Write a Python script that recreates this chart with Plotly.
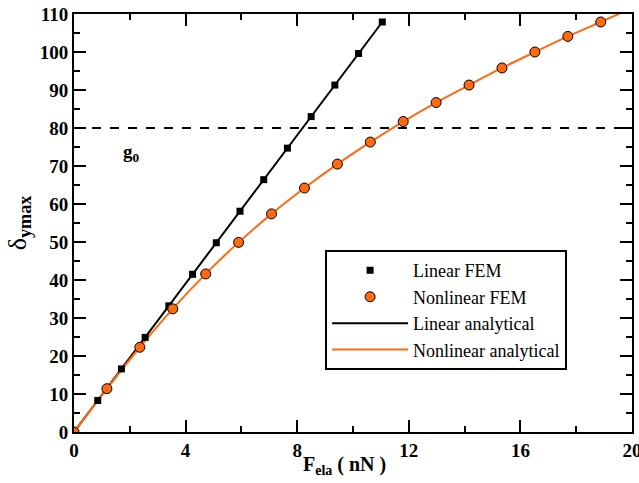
import plotly.graph_objects as go

# Linear FEM
lin_fem_x = [0, 0.85, 1.7, 2.55, 3.4, 4.25, 5.1, 5.95, 6.8, 7.65, 8.5, 9.35, 10.2, 11.05]
lin_fem_y = [0, 8.3, 16.6, 24.9, 33.2, 41.5, 49.8, 58.1, 66.4, 74.7, 83.0, 91.3, 99.6, 107.9]
# Nonlinear FEM
nl_fem_x = [0, 1.18, 2.36, 3.54, 4.72, 5.9, 7.08, 8.26, 9.44, 10.62, 11.8, 12.98, 14.16, 15.34, 16.52, 17.7, 18.88]
nl_fem_y = [0, 11.4, 22.3, 32.4, 41.6, 49.9, 57.4, 64.2, 70.5, 76.3, 81.7, 86.7, 91.3, 95.8, 100.0, 104.1, 107.9]
# Linear analytical
lin_an_x = [0, 11.05]
lin_an_y = [0, 107.9]
# Nonlinear analytical
nl_an_x = [0, 1.18, 2.36, 3.54, 4.72, 5.9, 7.08, 8.26, 9.44, 10.62, 11.8, 12.98, 14.16, 15.34, 16.52, 17.7, 18.88, 19.55]
nl_an_y = [0, 11.4, 22.3, 32.4, 41.6, 49.9, 57.4, 64.2, 70.5, 76.3, 81.7, 86.7, 91.3, 95.8, 100.0, 104.1, 107.9, 110.1]
# g0 gap
g0 = 80

ORANGE = "#FF6A10"
FONT = "Liberation Serif"

fig = go.Figure()
fig.add_trace(go.Scatter(x=[0, 20], y=[g0, g0], mode="lines",
                         line=dict(color="black", width=2, dash="dash"),
                         showlegend=False, hoverinfo="skip"))
fig.add_trace(go.Scatter(x=lin_an_x, y=lin_an_y, mode="lines",
                         line=dict(color="black", width=2), showlegend=False))
fig.add_trace(go.Scatter(x=nl_an_x, y=nl_an_y, mode="lines", line_shape="spline",
                         line=dict(color=ORANGE, width=2), showlegend=False))
fig.add_trace(go.Scatter(x=lin_fem_x, y=lin_fem_y, mode="markers", name="Linear FEM",
                         marker=dict(symbol="square", size=7, color="black")))
fig.add_trace(go.Scatter(x=nl_fem_x, y=nl_fem_y, mode="markers", name="Nonlinear FEM",
                         marker=dict(symbol="circle", size=10, color=ORANGE,
                                     line=dict(color="black", width=1))))
# legend-only entries for the analytical lines
fig.add_trace(go.Scatter(x=[None], y=[None], mode="lines", name="Linear analytical",
                         line=dict(color="black", width=2)))
fig.add_trace(go.Scatter(x=[None], y=[None], mode="lines", name="Nonlinear analytical",
                         line=dict(color=ORANGE, width=2)))

fig.add_annotation(x=2.05, y=73.5, text="<b>g<sub>0</sub></b>", showarrow=False,
                   font=dict(family=FONT, size=19, color="black"))
# x-axis title
fig.add_annotation(x=0.485, y=-0.079, xref="paper", yref="paper",
                   xanchor="center", yanchor="middle", showarrow=False,
                   text="<b>F<sub>ela</sub> ( nN )</b>",
                   font=dict(family=FONT, size=20, color="black"))

axis_common = dict(showline=True, linecolor="black", linewidth=2, mirror="ticks",
                   ticks="inside", tickcolor="black", tickwidth=2, ticklen=12,
                   showgrid=False, zeroline=False, automargin=False,
                   ticklabeloverflow="allow",
                   tickfont=dict(family=FONT, size=19, color="black"))

fig.update_xaxes(range=[0, 20], tickvals=[0, 4, 8, 12, 16, 20],
                 ticktext=["<b>%d</b>" % v for v in [0, 4, 8, 12, 16, 20]],
                 minor=dict(dtick=2, tick0=0, ticks="inside", ticklen=6, tickwidth=2, tickcolor="black"),
                 **axis_common)
fig.update_yaxes(range=[0, 110], tickvals=list(range(0, 111, 10)),
                 ticktext=["<b>%d</b>" % v for v in range(0, 111, 10)],
                 minor=dict(dtick=5, tick0=0, ticks="inside", ticklen=6, tickwidth=2, tickcolor="black"),
                 title=dict(text="δ<b><sub>ymax</sub></b>", standoff=6,
                            font=dict(family=FONT, size=26, color="black")),
                 **axis_common)

fig.update_layout(
    width=639, height=483,
    margin=dict(l=74, r=7, t=14, b=51),
    paper_bgcolor="white", plot_bgcolor="white",
    legend=dict(x=0.45, y=0.435, xanchor="left", yanchor="top",
                bordercolor="black", borderwidth=2, bgcolor="white",
                font=dict(family=FONT, size=18, color="black"),
                itemwidth=76, tracegroupgap=0),
)

fig.write_html("out.html", post_script="document.body.style.margin='0';",
               config={"displayModeBar": False})
